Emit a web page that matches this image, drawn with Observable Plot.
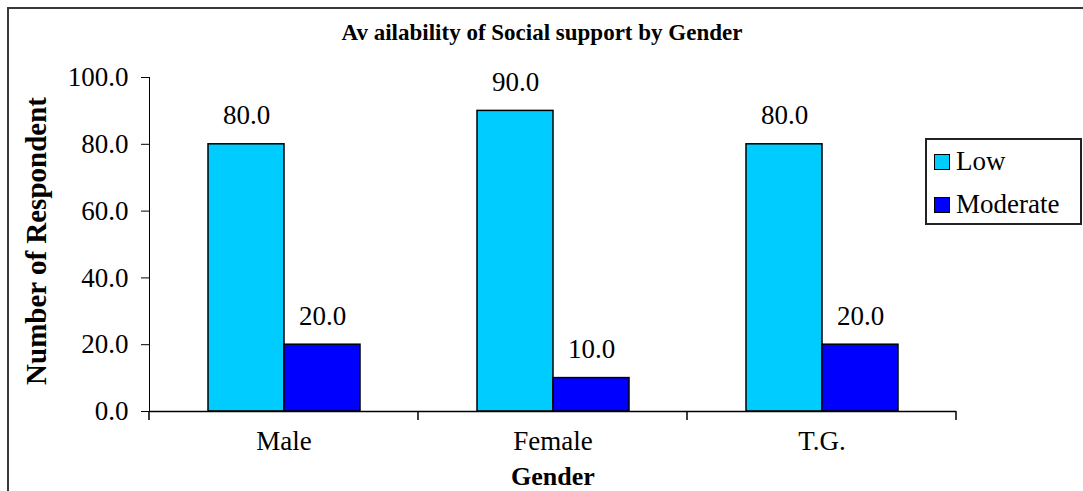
<!DOCTYPE html>
<html>
<head>
<meta charset="utf-8">
<script src="https://cdn.jsdelivr.net/npm/d3@7"></script>
<script src="https://cdn.jsdelivr.net/npm/@observablehq/plot@0.6"></script>
<style>
  html, body { margin: 0; padding: 0; background: #fff; }
  #wrap { position: relative; width: 1083px; height: 491px; overflow: hidden; background: #fff;
          font-family: "Liberation Serif", "Times New Roman", serif; }
  #chart { position: absolute; left: 0; top: 0; }
  #border { position: absolute; left: 7px; top: 7px; width: 1100px; height: 510px;
            border: 2px solid #3a3a3a; box-sizing: border-box; pointer-events: none; }
  #legend { position: absolute; left: 925px; top: 138px; width: 157px; height: 87px;
            box-sizing: border-box; border: 2px solid #222; background: #fff; }
  .li { position: absolute; left: 7px; display: flex; align-items: center; font-size: 27px; color: #000; white-space: nowrap; }
  .sw { width: 14px; height: 14px; border: 1.5px solid #000; margin-right: 6px; }
</style>
</head>
<body>
<div id="wrap">
  <div id="chart"></div>
  <div id="border"></div>
  <div id="legend"></div>
</div>
<script>
const title = "Av ailability of Social support by Gender";
const yLabel = "Number of Respondent";
const xLabel = "Gender";
const genders = ["Male", "Female", "T.G."];
const series = ["Low", "Moderate"];
const lowValues = [80.0, 90.0, 80.0];
const moderateValues = [20.0, 10.0, 20.0];
const yTicks = [0, 20, 40, 60, 80, 100];
const colors = ["#00CCFF", "#0000FF"];

const seriesValues = [lowValues, moderateValues];
const table = [];
genders.forEach((g, i) => series.forEach((s, j) => table.push({gender: g, series: s, value: seriesValues[j][i]})));

const W = 1083, H = 491;
const fmt = d3.format(".1f");

const plot = Plot.plot({
  width: W,
  height: H,
  marginLeft: 148,
  marginRight: 127,
  marginTop: 77,
  marginBottom: 80,
  style: {fontFamily: "'Liberation Serif', 'Times New Roman', serif", fontSize: "27px", color: "#000", background: "transparent", overflow: "visible"},
  facet: {data: table, x: "gender"},
  fx: {domain: genders, padding: 0, paddingInner: 0, paddingOuter: 0, tickSize: 0, tickPadding: 19, label: null, axis: "bottom"},
  x: {domain: series, paddingInner: 0, paddingOuter: 0.75, axis: null},
  y: {domain: [0, 100], ticks: yTicks, tickFormat: fmt, tickSize: 8, tickPadding: 13, label: null, line: true, nice: false},
  color: {domain: series, range: colors},
  marks: [
    Plot.barY(table, {x: "series", y: "value", fill: "series", stroke: "#000", strokeWidth: 1.5}),
    Plot.text(table, {x: "series", y: "value", text: d => fmt(d.value), fontSize: 27, fill: "#000", lineAnchor: "bottom", dy: -20}),
    Plot.ruleY([0], {stroke: "#000", strokeWidth: 1.5})
  ]
});

document.getElementById("chart").appendChild(plot);

const svg = d3.select(plot);

// category boundary ticks from the fx scale
try {
  const fx = plot.scale("fx");
  const ys = plot.scale("y");
  const y0 = ys.apply(0);
  const bw = fx.bandwidth;
  const bounds = genders.map(g => fx.apply(g));
  bounds.push(fx.apply(genders[genders.length - 1]) + bw);
  svg.append("g").selectAll("line").data(bounds).join("line")
    .attr("x1", d => d).attr("x2", d => d)
    .attr("y1", y0).attr("y2", y0 + 9)
    .attr("stroke", "#000").attr("stroke-width", 1.5);
} catch (e) { console.error(e); }

// titles
svg.append("text").attr("x", 542).attr("y", 40).attr("text-anchor", "middle")
  .attr("font-size", 23).attr("font-weight", "bold").attr("fill", "#000").text(title);
svg.append("text").attr("transform", "translate(46,241) rotate(-90)").attr("text-anchor", "middle")
  .attr("font-size", 29).attr("font-weight", "bold").attr("fill", "#000").text(yLabel);
svg.append("text").attr("x", 553).attr("y", 485).attr("text-anchor", "middle")
  .attr("font-size", 26).attr("font-weight", "bold").attr("fill", "#000").text(xLabel);

// legend
const color = plot.scale("color");
const legend = d3.select("#legend");
series.forEach((s, i) => {
  const item = legend.append("div").attr("class", "li").style("top", (i === 0 ? 6 : 49) + "px");
  item.append("div").attr("class", "sw").style("background", color.apply(s));
  item.append("span").text(s);
});
</script>
</body>
</html>
